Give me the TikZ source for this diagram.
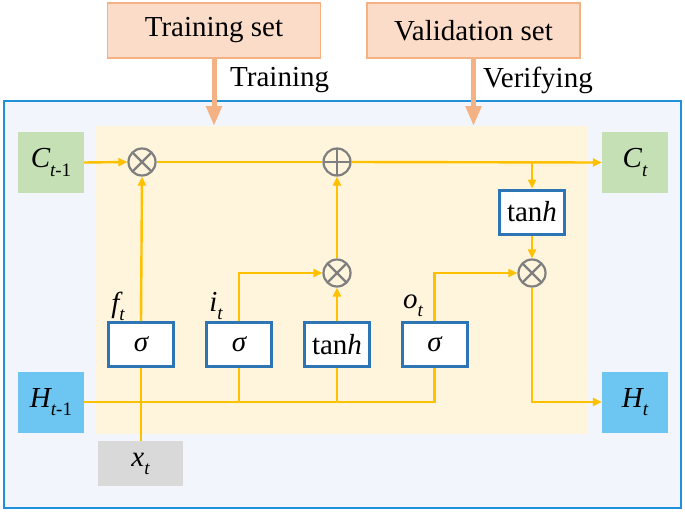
\documentclass[tikz,border=0pt]{standalone}
\usepackage{fontspec}
\setmainfont{Liberation Serif}
\newfontfamily\tms{Liberation Serif}
\usetikzlibrary{arrows.meta}
\definecolor{framefill}{HTML}{F2F5FB}
\definecolor{frameline}{HTML}{2190DA}
\definecolor{cellfill}{HTML}{FFF5DC}
\definecolor{flow}{HTML}{FFC000}
\definecolor{gateline}{HTML}{2E75B6}
\definecolor{cgreen}{HTML}{C5E0B4}
\definecolor{hblue}{HTML}{6DC6F1}
\definecolor{xgray}{HTML}{D9D9D9}
\definecolor{salfill}{HTML}{FBDCC8}
\definecolor{salline}{HTML}{F4B183}
\definecolor{opgray}{HTML}{7F7F7F}
\newcommand{\lsub}[1]{\raisebox{-0.28em}{\fontsize{19}{19}\selectfont #1}}
\tikzset{
  txt/.style={font=\tms\fontsize{29}{30}\selectfont, inner sep=0pt},
  setbox/.style={draw=salline, line width=1.5pt, fill=salfill, minimum width=213pt, minimum height=55pt, txt},
  gatebox/.style={draw=gateline, line width=3pt, fill=white, minimum width=65pt, minimum height=44pt, txt},
  statebox/.style={minimum width=66pt, minimum height=61pt, txt},
  op/.style={circle, draw=opgray, line width=2.2pt, minimum size=27pt, inner sep=0pt},
  mult/.style={op, path picture={\draw[opgray, line width=2.2pt] (path picture bounding box.north west)--(path picture bounding box.south east) (path picture bounding box.north east)--(path picture bounding box.south west);}},
  plus/.style={op, path picture={\draw[opgray, line width=2.2pt] (path picture bounding box.north)--(path picture bounding box.south) (path picture bounding box.east)--(path picture bounding box.west);}},
  fl/.style={draw=flow, line width=2.4pt},
  fla/.style={fl, -{Triangle[length=9pt,width=8pt]}},
  salarrow/.style={draw=salline, line width=5pt, -{Triangle[length=20pt,width=15pt]}},
}
\begin{document}
\begin{tikzpicture}[x=1pt,y=-1pt]
\useasboundingbox (0,0) rectangle (685,512);
% frame and cell region
\filldraw[fill=framefill, draw=frameline, line width=2.5pt] (4,101) rectangle (681,508);
\fill[cellfill] (95,126) rectangle (587,434);
% top boxes
\node[setbox] (train) at (214,30.5) {Training set};
\node[setbox] (valid) at (473.5,30.5) {Validation set};
\coordinate (trainin) at (214,126);
\coordinate (validin) at (473.5,126);
\draw[salarrow] (train.south) -- (trainin);
\draw[salarrow] (valid.south) -- (validin);
\node[txt, anchor=west] (trlab) at (230,80) {Training};
\node[txt, anchor=west] (velab) at (483,80) {Verifying};
% states
\node[statebox, fill=cgreen] (Cp) at (51,162.5) {\itshape C\lsub{t\upshape -1}};
\node[statebox, fill=cgreen] (Ct) at (635,162.5) {\itshape C\lsub{t}};
\node[statebox, fill=hblue] (Hp) at (51,402) {\itshape H\lsub{t\upshape -1}};
\node[statebox, fill=hblue] (Ht) at (635,402) {\itshape H\lsub{t}};
\node[txt, fill=xgray, minimum width=85pt, minimum height=45pt] (xt) at (140.5,463.5) {\itshape x\lsub{t}};
% gates
\node[gatebox] (g1) at (141,344.5) {\itshape σ};
\node[gatebox] (g2) at (239,344.5) {\itshape σ};
\node[gatebox] (g3) at (337,344.5) {tan\itshape h};
\node[gatebox] (g4) at (434.5,344.5) {\itshape σ};
\node[gatebox] (th) at (532,212) {tan\itshape h};
\node[txt] (lf) at (118,306) {\itshape f\lsub{t}};
\node[txt] (li) at (216,306) {\itshape i\lsub{t}};
\node[txt] (lo) at (413,306) {\itshape o\lsub{t}};
% operators
\node[mult] (m1) at (142,162) {};
\node[plus] (pl) at (337,162) {};
\node[mult] (m2) at (337,273) {};
\node[mult] (m3) at (532,273) {};
% cell line
\draw[fla] (Cp.east) -- (m1.west);
\draw[fl] (m1.east) -- (pl.west);
\draw[fla] (pl.east) -- (Ct.west);
\coordinate (br) at (532,162);
\draw[fla] (br) -- (th.north);
\draw[fla] (th.south) -- (m3.north);
\coordinate (hout) at (532,402);
\draw[fla] (m3.south) -- (hout) -- (Ht.west);
% gates to operators
\draw[fla] (g1.north) -- (m1.south);
\draw[fla] (g2.north) |- (m2.west);
\draw[fla] (g3.north) -- (m2.south);
\draw[fla] (m2.north) -- (pl.south);
\draw[fla] (g4.north) |- (m3.west);
% input line
\coordinate (hend) at (434.5,402);
\draw[fl] (Hp.east) -- (hend) -- (g4.south);
\draw[fl] (g2.south) -- (g2.south |- hend);
\draw[fl] (g3.south) -- (g3.south |- hend);
\draw[fl] (xt.north -| g1.south) -- (g1.south);
\end{tikzpicture}
\end{document}
